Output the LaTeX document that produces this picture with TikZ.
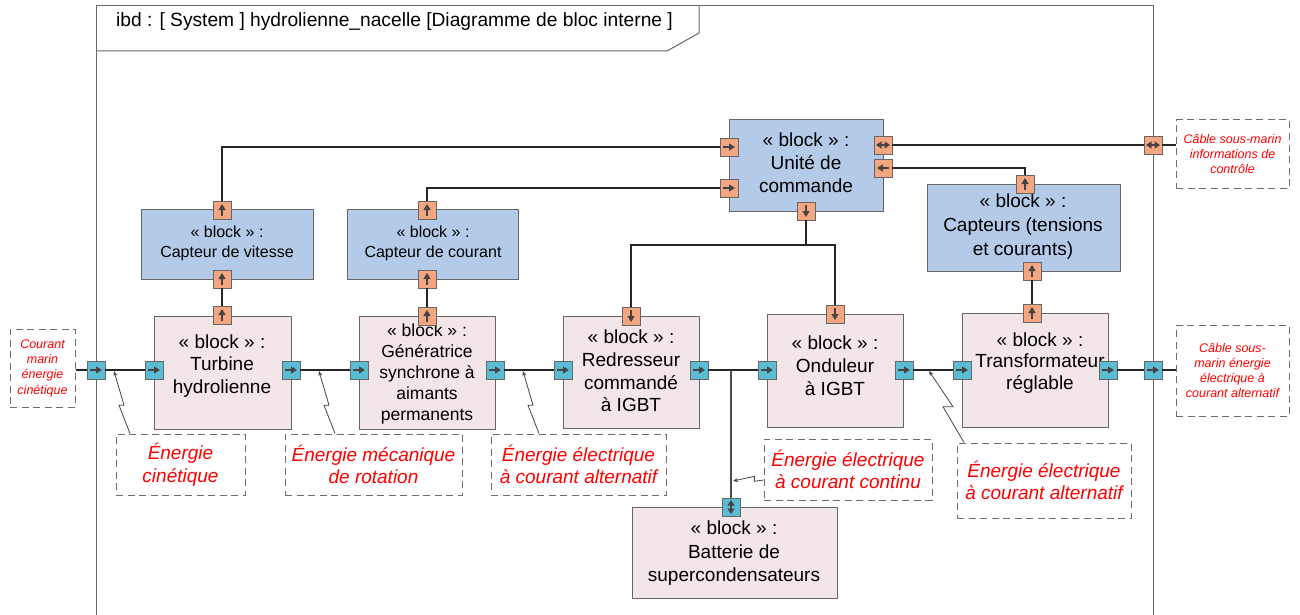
\documentclass[tikz,border=0pt]{standalone}
\usepackage{fontspec}
\setmainfont{Liberation Sans}
\usetikzlibrary{arrows.meta,calc}
\definecolor{pinkfill}{HTML}{F2E6E9}
\definecolor{bluefill}{HTML}{B3CBE8}
\definecolor{bordergray}{HTML}{666666}
\definecolor{portorange}{HTML}{F4A680}
\definecolor{portblue}{HTML}{5BBDD3}
\definecolor{arrowgray}{HTML}{444444}
\definecolor{notered}{HTML}{FF0000}
\definecolor{dashgray}{HTML}{6E6E6E}
\newcommand\portR[3]{\node[#3] (#1) at (#2) {}; \draw[parrow] ([xshift=-6pt]#1.center) -- ([xshift=6pt]#1.center);}
\newcommand\portL[3]{\node[#3] (#1) at (#2) {}; \draw[parrow] ([xshift=6pt]#1.center) -- ([xshift=-6pt]#1.center);}
\newcommand\portU[3]{\node[#3] (#1) at (#2) {}; \draw[parrow] ([yshift=-6pt]#1.center) -- ([yshift=6pt]#1.center);}
\newcommand\portD[3]{\node[#3] (#1) at (#2) {}; \draw[parrow] ([yshift=6pt]#1.center) -- ([yshift=-6pt]#1.center);}
\newcommand\portLR[3]{\node[#3] (#1) at (#2) {}; \draw[pdarrow] ([xshift=-7pt]#1.center) -- ([xshift=7pt]#1.center);}
\newcommand\portUD[3]{\node[#3] (#1) at (#2) {}; \draw[pdarrow] ([yshift=-7pt]#1.center) -- ([yshift=7pt]#1.center);}
\begin{document}
\begin{tikzpicture}[x=1pt,y=-1pt,
  blk/.style={draw=bordergray,line width=1pt,inner sep=0pt},
  pinkblk/.style={blk,fill=pinkfill},
  blueblk/.style={blk,fill=bluefill},
  btext/.style={align=center,inner sep=0pt,font=\fontsize{19}{22.8}\selectfont},
  gtext/.style={align=center,inner sep=0pt,font=\fontsize{17.5}{21}\selectfont},
  stext/.style={align=center,inner sep=0pt,font=\fontsize{16}{20}\selectfont},
  prt/.style={draw=bordergray,line width=0.9pt,minimum size=18pt,inner sep=0pt},
  oport/.style={prt,fill=portorange},
  bport/.style={prt,fill=portblue},
  parrow/.style={draw=arrowgray,line width=1.2pt,-{Triangle[length=6pt,width=7pt]}},
  pdarrow/.style={draw=arrowgray,line width=1.2pt,{Triangle[length=5.5pt,width=7pt]}-{Triangle[length=5.5pt,width=7pt]}},
  cmt/.style={draw=dashgray,dash pattern=on 7pt off 4.5pt,line width=1pt,inner sep=0pt,text=notered,align=center},
  bigcmt/.style={cmt,font=\fontsize{19}{22.5}\selectfont\itshape},
  smallcmt/.style={cmt,font=\fontsize{12.5}{15.3}\selectfont\itshape},
  conn/.style={draw=black!85,line width=1.1pt},
  anch/.style={draw=arrowgray,line width=0.8pt,-{Stealth[length=5pt,width=4pt]}},
  frm/.style={draw=bordergray,line width=1pt},
]
\useasboundingbox (0,0) rectangle (1300,615);
\clip (0,0) rectangle (1300,615);

% frame
\draw[frm] (96,630) -- (96,6) -- (1153,6) -- (1153,630);
\draw[frm] (96,51) -- (667,51) -- (699,33) -- (699,6);
\node[font=\fontsize{19.2}{22}\selectfont,inner sep=0pt] (title) at (394.5,22) {ibd : [ System ] hydrolienne\_nacelle [Diagramme de bloc interne ]};

% blocks
\node[pinkblk,minimum width=137pt,minimum height=113pt] (tur) at (222.5,372.5) {};
\node[btext] (turt) at (222,366) {« block » :\\Turbine\\hydrolienne};
\node[pinkblk,minimum width=136pt,minimum height=113pt] (gen) at (427,372.5) {};
\node[gtext] (gent) at (427,373.5) {« block » :\\Génératrice\\synchrone à\\aimants\\permanents};
\node[pinkblk,minimum width=136pt,minimum height=112pt] (red) at (631,372) {};
\node[btext] (redt) at (631,371) {« block » :\\Redresseur\\commandé\\à IGBT};
\node[pinkblk,minimum width=136pt,minimum height=113pt] (ond) at (835,370.5) {};
\node[btext] (ondt) at (835,366) {« block » :\\Onduleur\\à IGBT};
\node[pinkblk,minimum width=146pt,minimum height=114pt] (tra) at (1035,370) {};
\node[btext,font=\fontsize{19}{21.5}\selectfont] (trat) at (1040,363) {« block » :\\Transformateur\\réglable};
\node[pinkblk,minimum width=205pt,minimum height=91pt] (bat) at (734.5,552.5) {};
\node[btext,font=\fontsize{19}{23.5}\selectfont] (batt) at (734,553.5) {« block » :\\Batterie de\\supercondensateurs};
\node[blueblk,minimum width=172pt,minimum height=70pt] (cv) at (227,244) {};
\node[stext] (cvt) at (227,243) {« block » :\\Capteur de vitesse};
\node[blueblk,minimum width=171pt,minimum height=70pt] (cc) at (432.5,244) {};
\node[stext] (cct) at (433,243) {« block » :\\Capteur de courant};
\node[blueblk,minimum width=154pt,minimum height=91pt] (uc) at (806,165.5) {};
\node[btext,font=\fontsize{19}{23}\selectfont] (uct) at (806,163) {« block » :\\Unité de\\commande};
\node[blueblk,minimum width=193pt,minimum height=87pt] (cap) at (1023.5,227.5) {};
\node[btext,font=\fontsize{19}{24}\selectfont] (capt) at (1023,227) {« block » :\\Capteurs (tensions\\et courants)};

% comments
\node[smallcmt,minimum width=65pt,minimum height=78pt] (cm) at (42.5,368) {Courant\\marin\\énergie\\cinétique};
\node[bigcmt,minimum width=129pt,minimum height=61pt] (e1) at (180.5,464.5) {Énergie\\cinétique};
\node[bigcmt,minimum width=177pt,minimum height=61pt] (e2) at (373.5,464.5) {Énergie mécanique\\de rotation};
\node[bigcmt,minimum width=175pt,minimum height=61pt] (e3) at (578.5,464.5) {Énergie électrique\\à courant alternatif};
\node[bigcmt,minimum width=168pt,minimum height=61pt] (e4) at (848,469.5) {Énergie électrique\\à courant continu};
\node[bigcmt,minimum width=174pt,minimum height=75pt] (e5) at (1044,480.5) {Énergie électrique\\à courant alternatif};
\node[smallcmt,minimum width=113pt,minimum height=91pt] (cout) at (1232.5,370.5) {Câble sous-\\marin énergie\\électrique à\\courant alternatif};
\node[smallcmt,minimum width=113pt,minimum height=68pt] (cctrl) at (1232.5,154) {Câble sous-marin\\informations de\\contrôle};

% flow ports (blue)
\portR{pfl}{96,370}{bport}
\portR{ptin}{154,370}{bport}
\portR{ptout}{291,370}{bport}
\portR{pgin}{359,370}{bport}
\portR{pgout}{495,370}{bport}
\portR{prin}{563,370}{bport}
\portR{prout}{699,370}{bport}
\portR{poin}{767,370}{bport}
\portR{poout}{904,370}{bport}
\portR{ptrin}{962,370}{bport}
\portR{ptrout}{1108,370}{bport}
\portR{pfr}{1153,370}{bport}
\portUD{pbat}{731,507}{bport}

% information ports (orange)
\portU{pttop}{222,315}{oport}
\portU{pcvb}{222,279}{oport}
\portU{pcvt}{222,210}{oport}
\portU{pgtop}{427,316}{oport}
\portU{pccb}{427,279}{oport}
\portU{pcct}{427,210}{oport}
\portR{pul1}{729,147}{oport}
\portR{pul2}{729,188}{oport}
\portLR{pur1}{883,145}{oport}
\portL{pur2}{883,168}{oport}
\portD{pub}{806,211}{oport}
\portD{prtop}{631,316}{oport}
\portD{potop}{835,314}{oport}
\portU{pkt}{1025,184}{oport}
\portU{pkb}{1032,271}{oport}
\portU{ptrtop}{1032,313}{oport}
\portLR{pfr2}{1153,145}{oport}

% flow connectors
\draw[conn] (cm.east |- pfl.west) -- (pfl.west);
\draw[conn] (pfl) -- (ptin);
\draw[conn] (ptout) -- (pgin);
\draw[conn] (pgout) -- (prin);
\draw[conn] (prout) -- (poin);
\draw[conn] (poout) -- (ptrin);
\draw[conn] (ptrout) -- (pfr);
\draw[conn] (pfr.east) -- (pfr.east -| cout.west);
\coordinate (j2) at (731,370);
\draw[conn,draw=black!70] (j2) -- (pbat.north);

% information connectors
\draw[conn] (pcvb) -- (pttop);
\draw[conn] (pccb) -- (pgtop);
\draw[conn] (pcvt.north) |- (pul1.west);
\draw[conn] (pcct.north) |- (pul2.west);
\coordinate (j1) at (806,245);
\draw[conn] (pub.south) -- (j1);
\draw[conn] (j1) -| (prtop.north);
\draw[conn] (j1) -| (potop.north);
\draw[conn] (pur2.east) -| (pkt.north);
\draw[conn] (pur1) -- (pfr2);
\draw[conn] (pfr2.east) -- (pfr2.east -| cctrl.west);
\draw[conn] (pkb) -- (ptrtop);

% comment anchors
\coordinate (s1) at ([xshift=-50.5pt]e1.north); \coordinate (t1) at (114,371);
\draw[anch] (s1) -- ($(s1)!0.5!(t1)+(-3,3)$) -- ($(s1)!0.5!(t1)+(2,3)$) -- (t1);
\coordinate (s2) at ([xshift=-38.5pt]e2.north); \coordinate (t2) at (319,371);
\draw[anch] (s2) -- ($(s2)!0.5!(t2)+(-3,3)$) -- ($(s2)!0.5!(t2)+(2,3)$) -- (t2);
\coordinate (s3) at ([xshift=-39.5pt]e3.north); \coordinate (t3) at (523,371);
\draw[anch] (s3) -- ($(s3)!0.5!(t3)+(-3,3)$) -- ($(s3)!0.5!(t3)+(2,3)$) -- (t3);
\coordinate (s4) at ([yshift=-10.5pt]e4.west); \coordinate (t4) at (733,481);
\draw[anch] (s4) -- ($(s4)!0.3!(t4)+(0,1)$) -- ($(s4)!0.3!(t4)+(0,-4)$) -- (t4);
\coordinate (s5) at ([xshift=-80pt]e5.north); \coordinate (t5) at (929,371);
\draw[anch] (s5) -- ($(s5)!0.5!(t5)+(-3.5,0)$) -- ($(s5)!0.5!(t5)+(6.5,0)$) -- (t5);
\end{tikzpicture}
\end{document}
